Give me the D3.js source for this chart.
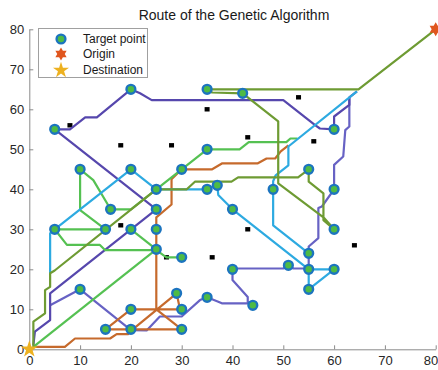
<!DOCTYPE html>
<html>
<head>
<meta charset="utf-8">
<script src="https://cdn.jsdelivr.net/npm/d3@7/dist/d3.min.js"></script>
<style>
  html, body { margin: 0; padding: 0; background: #fff; }
  svg { display: block; font-family: "Liberation Sans", Arial, sans-serif; }
</style>
</head>
<body>
<svg id="chart" width="438" height="370"></svg>
<script>
// ---- data ----
const xTicks = [0, 10, 20, 30, 40, 50, 60, 70, 80];
const yTicks = [0, 10, 20, 30, 40, 50, 60, 70, 80];

const targetX = [5, 20, 35, 42, 60, 10, 20, 30, 35, 16, 25, 25, 5, 15, 20, 25, 25, 30, 10, 20, 29, 30, 15, 20, 30, 35, 37, 40, 35, 44, 40, 51, 55, 60, 55, 55, 48, 55, 60, 60];
const targetY = [55, 65, 65, 64, 55, 45, 45, 45, 50, 35, 40, 35, 30, 30, 30, 30, 25, 23, 15, 10, 14, 10, 5, 5, 5, 40, 41, 35, 13, 11, 20, 21, 20, 20, 15, 24, 40, 45, 40, 30];

const obstacleX = [8, 18, 28, 35, 53, 43, 56, 18, 27, 36, 43, 64];
const obstacleY = [56, 51, 51, 60, 63, 53, 52, 31, 23, 23, 30, 26];

const origin = [80, 80];
const destination = [0, 0];

const legendLabels = ["Target point", "Origin", "Destination"];

// route segments, each a list of [x, y] waypoints
const routePurpleB = [[63, 63], [63, 55.7], [62.2, 54.8], [61.8, 48.2], [60, 46.1], [60, 40], [57.6, 35.7], [56.9, 35.3], [56.9, 27.8], [55, 25.7], [55, 24], [55, 20.2], [52, 20.2], [51, 21], [50, 20.2], [40, 20.2], [40, 17.3], [43, 13.1], [43, 11.9], [44, 11], [43.1, 11.5], [37.9, 11.5], [37.2, 11.9], [35, 13], [33.6, 12.3], [30, 8.2], [25.7, 8.2], [23.1, 4.7], [20, 4.8], [10, 15], [4.1, 11]];
const routePurpleA = [[64.5, 64.5], [63, 63], [63, 61.1], [60, 58.2], [60, 55], [57.2, 55.2], [56.2, 56.1], [50, 62.3], [24.1, 62.3], [21.8, 64], [20, 65], [13.3, 58], [11, 58], [8, 55], [5, 55], [25, 35], [4.1, 14], [4.1, 7.3], [1.1, 4.4], [0.8, 1]];
const routeBrown = [[0.8, 0.6], [7, 0.6], [9, 2.7], [15.9, 2.7], [17.2, 3.8], [19.5, 3.8], [20, 4.6], [29, 14], [29.5, 11], [30, 10], [20, 10], [15, 5], [30, 5], [25, 10], [25, 33], [28, 36.2], [28, 42.5], [30, 45], [36, 45], [38, 46.5], [45, 46.5], [46.7, 47.7], [48.4, 47.7], [49.5, 49.5], [51, 51]];
const routeGreen1 = [[0.8, 0.6], [25, 25]];
const routeGreen2 = [[15, 30], [5, 30], [7.4, 26.1], [13.9, 26.1], [14.9, 24.8], [25, 24.8], [27, 23], [30, 23]];
const routeGreen3 = [[20, 30], [25, 25]];
const routeGreen4 = [[15, 30], [10, 34.8], [10, 45], [12.6, 42.3], [16, 35], [20, 35], [25, 40], [35, 50], [41.4, 50], [43.2, 51.8], [50.6, 51.8], [51.4, 52.7], [52.8, 52.7]];
const routeCyan1 = [[64.5, 64.5], [51, 50.7], [51, 46], [48.5, 43.5], [48, 42], [48, 31], [55, 24]];
const routeCyan2 = [[4.1, 19], [4.1, 29], [5, 30], [20, 45], [25, 40], [35, 40], [37, 41], [37.2, 38.6], [40, 35], [55, 20], [60, 20], [55, 15], [55, 20]];
const routeOlive = [[80, 80], [64.8, 65], [35, 65], [36, 64.2], [42, 64], [49, 57], [49, 41.5], [57.9, 33], [60, 30], [57.9, 32.3], [57.9, 39], [55, 41.9], [55, 45], [52.9, 43], [41.1, 43], [39.8, 41.9], [32.6, 41.9], [31, 40], [25, 40], [5, 19.7], [4.1, 19], [4.1, 15.6], [3.1, 14.8], [3.1, 9], [0.8, 6.9], [0.8, 0.6]];

// ---- layout ----
const svg = d3.select("#chart");
const x = d3.scaleLinear().domain([0, 80]).range([29.3, 435.7]);
const y = d3.scaleLinear().domain([0, 80]).range([349.3, 29.3]);

// axes (ticks point into the plot)
const axisColor = "#8a8a8a";
const gx = svg.append("g")
  .attr("transform", `translate(0,${y(0)})`)
  .call(d3.axisBottom(x).tickValues(xTicks).tickSizeInner(-4).tickSizeOuter(0).tickPadding(6));
const gy = svg.append("g")
  .attr("transform", `translate(${x(0)},0)`)
  .call(d3.axisLeft(y).tickValues(yTicks).tickSizeInner(-4).tickSizeOuter(0).tickPadding(5));
[gx, gy].forEach(g => {
  g.select(".domain").attr("stroke", axisColor).attr("stroke-width", 1);
  g.selectAll(".tick line").attr("stroke", axisColor);
  g.selectAll(".tick text").attr("fill", "#262626").style("font-size", "13px")
    .style("font-family", "'Liberation Sans', Arial, sans-serif");
});
// keep the last x label inside the frame
gx.selectAll(".tick text").filter(d => d === 80).attr("text-anchor", "end").attr("dx", 2);

// title
svg.append("text")
  .attr("x", 234).attr("y", 20)
  .attr("text-anchor", "middle")
  .style("font-size", "14px").attr("fill", "#1a1a1a")
  .text("Route of the Genetic Algorithm");

// obstacles
svg.append("g").selectAll("rect")
  .data(d3.range(obstacleX.length))
  .join("rect")
  .attr("x", i => x(obstacleX[i]) - 2.5)
  .attr("y", i => y(obstacleY[i]) - 2.2)
  .attr("width", 5).attr("height", 4.4)
  .attr("fill", "#000");

// routes
const line = d3.line().x(d => x(d[0])).y(d => y(d[1]));
const routes = [
  { pts: routePurpleB, color: "#6762C4" },
  { pts: routePurpleA, color: "#5647AD" },
  { pts: routeBrown, color: "#C66A2C" },
  { pts: routeGreen1, color: "#55C152" },
  { pts: routeGreen2, color: "#55C152" },
  { pts: routeGreen3, color: "#55C152" },
  { pts: routeGreen4, color: "#55C152" },
  { pts: routeCyan1, color: "#2DAAE1" },
  { pts: routeCyan2, color: "#2DAAE1" },
  { pts: routeOlive, color: "#6E9B33" }
];
svg.append("g").selectAll("path")
  .data(routes)
  .join("path")
  .attr("d", r => line(r.pts))
  .attr("fill", "none")
  .attr("stroke", r => r.color)
  .attr("stroke-width", 2.2)
  .attr("stroke-linejoin", "round");

// target points
const markerEdge = "#1C74BF", markerFill = "#4EBB45";
svg.append("g").selectAll("circle")
  .data(d3.range(targetX.length))
  .join("circle")
  .attr("cx", i => x(targetX[i]))
  .attr("cy", i => y(targetY[i]))
  .attr("r", 4.4)
  .attr("fill", markerFill)
  .attr("stroke", markerEdge)
  .attr("stroke-width", 2.4);

// six-pointed star path
function hexagram(r) {
  const pts = d3.range(12).map(k => {
    const a = -Math.PI / 2 + k * Math.PI / 6;
    const rr = k % 2 === 0 ? r : r * 0.577;
    return [rr * Math.cos(a), rr * Math.sin(a)];
  });
  return "M" + pts.map(p => p.join(",")).join("L") + "Z";
}
const originColor = "#E0561E", destColor = "#EDB120";

svg.append("path")
  .attr("d", hexagram(7))
  .attr("transform", `translate(${x(origin[0])},${y(origin[1])})`)
  .attr("fill", originColor);
svg.append("path")
  .attr("d", d3.symbol(d3.symbolStar, 90)())
  .attr("transform", `translate(${x(destination[0])},${y(destination[1])})`)
  .attr("fill", destColor);

// legend
const lg = svg.append("g");
lg.append("rect")
  .attr("x", 38.5).attr("y", 28.5).attr("width", 109).attr("height", 49)
  .attr("fill", "#fff").attr("stroke", "#a0a0a0").attr("stroke-width", 1);
const rowsY = [39, 54, 69.3];
lg.append("circle").attr("cx", 61).attr("cy", rowsY[0]).attr("r", 4.4)
  .attr("fill", markerFill).attr("stroke", markerEdge).attr("stroke-width", 2.4);
lg.append("path").attr("d", hexagram(6.5))
  .attr("transform", `translate(61,${rowsY[1]})`).attr("fill", originColor);
lg.append("path").attr("d", d3.symbol(d3.symbolStar, 80)())
  .attr("transform", `translate(61,${rowsY[2] + 1})`).attr("fill", destColor);
lg.selectAll("text.lbl")
  .data(legendLabels)
  .join("text")
  .attr("class", "lbl")
  .attr("x", 83).attr("y", (d, i) => rowsY[i] + 4.3)
  .style("font-size", "12px").attr("fill", "#1a1a1a")
  .text(d => d);
</script>
</body>
</html>
